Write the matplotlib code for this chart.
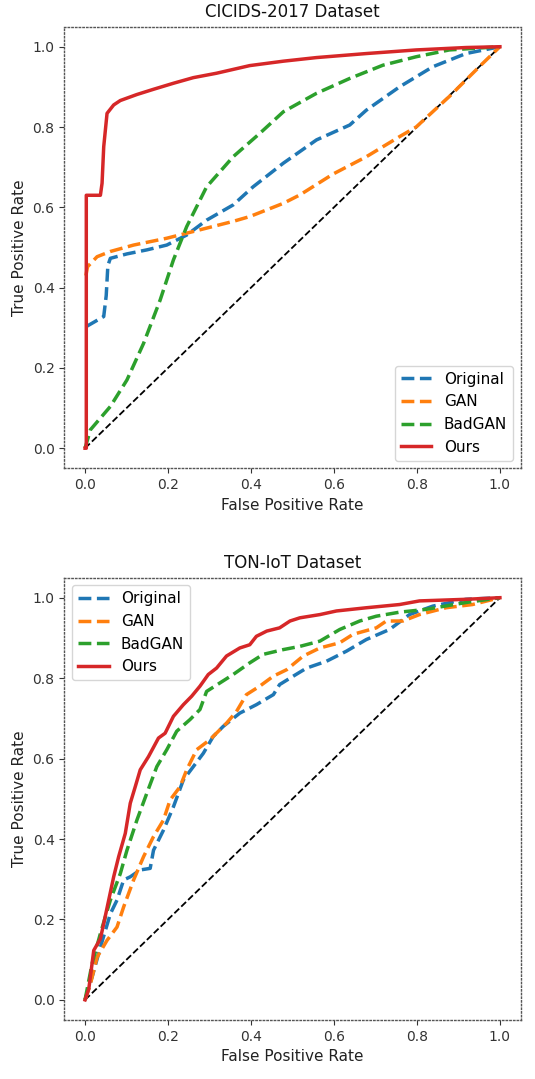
import matplotlib
matplotlib.use("Agg")
import matplotlib.pyplot as plt

# ---- CICIDS-2017 ----
cic_orig_x = [0.003, 0.045, 0.051, 0.055, 0.061, 0.101, 0.149, 0.197, 0.245, 0.293, 0.357, 0.405, 0.478, 0.558, 0.638, 0.678, 0.758, 0.838, 0.918, 1.0]
cic_orig_y = [0.303, 0.328, 0.38, 0.455, 0.473, 0.484, 0.494, 0.506, 0.531, 0.568, 0.606, 0.651, 0.71, 0.768, 0.805, 0.842, 0.90, 0.95, 0.983, 1.0]

cic_gan_x = [0.002, 0.006, 0.029, 0.061, 0.117, 0.197, 0.277, 0.357, 0.397, 0.478, 0.518, 0.598, 0.678, 0.758, 0.798, 0.878, 0.958, 1.0]
cic_gan_y = [0.43, 0.452, 0.477, 0.49, 0.506, 0.523, 0.544, 0.565, 0.577, 0.61, 0.631, 0.683, 0.726, 0.776, 0.80, 0.876, 0.958, 1.0]

cic_bad_x = [0.0, 0.013, 0.061, 0.101, 0.141, 0.181, 0.213, 0.245, 0.293, 0.357, 0.421, 0.478, 0.558, 0.638, 0.718, 0.798, 0.878, 1.0]
cic_bad_y = [0.0, 0.046, 0.104, 0.17, 0.261, 0.369, 0.469, 0.552, 0.651, 0.726, 0.784, 0.838, 0.884, 0.921, 0.954, 0.975, 0.992, 1.0]

cic_ours_x = [0.0, 0.003, 0.003, 0.037, 0.041, 0.045, 0.053, 0.069, 0.085, 0.125, 0.165, 0.213, 0.261, 0.317, 0.397, 0.478, 0.558, 0.678, 0.798, 0.918, 1.0]
cic_ours_y = [0.0, 0.0, 0.63, 0.63, 0.66, 0.751, 0.834, 0.855, 0.866, 0.881, 0.894, 0.909, 0.923, 0.934, 0.953, 0.964, 0.973, 0.983, 0.992, 0.998, 1.0]

# ---- TON-IoT ----
ton_orig_x = [0.0, 0.017, 0.037, 0.061, 0.077, 0.093, 0.109, 0.133, 0.157, 0.165, 0.189, 0.213, 0.237, 0.261, 0.285, 0.309, 0.333, 0.373, 0.413, 0.454, 0.469, 0.502, 0.534, 0.582, 0.63, 0.678, 0.734, 0.782, 0.838, 0.918, 1.0]
ton_orig_y = [0.0, 0.057, 0.131, 0.214, 0.248, 0.298, 0.306, 0.323, 0.327, 0.372, 0.422, 0.48, 0.547, 0.58, 0.613, 0.655, 0.68, 0.713, 0.734, 0.759, 0.784, 0.805, 0.825, 0.842, 0.867, 0.896, 0.921, 0.958, 0.979, 0.996, 1.0]

ton_gan_x = [0.0, 0.013, 0.029, 0.053, 0.077, 0.093, 0.117, 0.141, 0.165, 0.189, 0.205, 0.229, 0.245, 0.269, 0.301, 0.341, 0.365, 0.389, 0.421, 0.454, 0.486, 0.526, 0.566, 0.614, 0.646, 0.702, 0.726, 0.766, 0.806, 0.87, 0.934, 1.0]
ton_gan_y = [0.0, 0.04, 0.106, 0.148, 0.181, 0.231, 0.298, 0.356, 0.406, 0.447, 0.497, 0.53, 0.572, 0.622, 0.647, 0.688, 0.717, 0.759, 0.78, 0.805, 0.821, 0.855, 0.875, 0.888, 0.909, 0.925, 0.942, 0.942, 0.958, 0.975, 0.983, 1.0]

ton_bad_x = [0.0, 0.017, 0.037, 0.061, 0.085, 0.101, 0.125, 0.149, 0.173, 0.197, 0.221, 0.253, 0.277, 0.293, 0.325, 0.357, 0.397, 0.429, 0.478, 0.518, 0.566, 0.614, 0.662, 0.702, 0.758, 0.822, 0.918, 1.0]
ton_bad_y = [0.0, 0.09, 0.165, 0.248, 0.314, 0.372, 0.447, 0.514, 0.58, 0.622, 0.668, 0.697, 0.722, 0.767, 0.788, 0.809, 0.838, 0.859, 0.871, 0.879, 0.892, 0.921, 0.942, 0.954, 0.964, 0.971, 0.988, 1.0]

ton_ours_x = [0.0, 0.009, 0.021, 0.037, 0.045, 0.057, 0.069, 0.081, 0.097, 0.109, 0.121, 0.133, 0.153, 0.177, 0.193, 0.213, 0.237, 0.257, 0.277, 0.297, 0.317, 0.341, 0.373, 0.397, 0.413, 0.438, 0.469, 0.494, 0.518, 0.566, 0.606, 0.678, 0.758, 0.806, 0.918, 1.0]
ton_ours_y = [0.0, 0.027, 0.123, 0.152, 0.19, 0.248, 0.306, 0.356, 0.414, 0.489, 0.53, 0.572, 0.605, 0.651, 0.663, 0.705, 0.734, 0.755, 0.78, 0.809, 0.825, 0.855, 0.875, 0.883, 0.904, 0.917, 0.925, 0.942, 0.95, 0.958, 0.967, 0.975, 0.983, 0.992, 0.996, 1.0]

labels = ["Original", "GAN", "BadGAN", "Ours"]
colors = ["#1f77b4", "#ff7f0e", "#2ca02c", "#d62728"]
titles = ["CICIDS-2017 Dataset", "TON-IoT Dataset"]
ticks = [0.0, 0.2, 0.4, 0.6, 0.8, 1.0]

fig = plt.figure(figsize=(5.35, 10.79), dpi=100)
ax1 = fig.add_axes([0.1202, 0.566, 0.853, 0.4093])
ax2 = fig.add_axes([0.1202, 0.0547, 0.853, 0.410])

datasets = [
    [(cic_orig_x, cic_orig_y), (cic_gan_x, cic_gan_y), (cic_bad_x, cic_bad_y), (cic_ours_x, cic_ours_y)],
    [(ton_orig_x, ton_orig_y), (ton_gan_x, ton_gan_y), (ton_bad_x, ton_bad_y), (ton_ours_x, ton_ours_y)],
]
legend_locs = ["lower right", "upper left"]

for ax, data, title, loc in zip([ax1, ax2], datasets, titles, legend_locs):
    ax.plot([0, 1], [0, 1], 'k--', lw=1.3)
    for (xs, ys), lab, c in zip(data, labels, colors):
        ls = '-' if lab == "Ours" else '--'
        ax.plot(xs, ys, color=c, lw=2.5, ls=ls, label=lab)
    ax.set_xlim(-0.05, 1.05)
    ax.set_ylim(-0.05, 1.05)
    ax.set_xticks(ticks)
    ax.set_yticks(ticks)
    ax.tick_params(labelsize=10, colors='#333333')
    ax.set_xlabel("False Positive Rate", fontsize=11, color='#222222')
    ax.set_ylabel("True Positive Rate", fontsize=11, color='#222222')
    ax.set_title(title, fontsize=12, color='#111111', pad=7)
    for sp in ax.spines.values():
        sp.set_linestyle(':')
        sp.set_color('#555555')
        sp.set_linewidth(1.0)
    ax.legend(loc=loc, fontsize=11)

fig.savefig("out.png", dpi=100)
